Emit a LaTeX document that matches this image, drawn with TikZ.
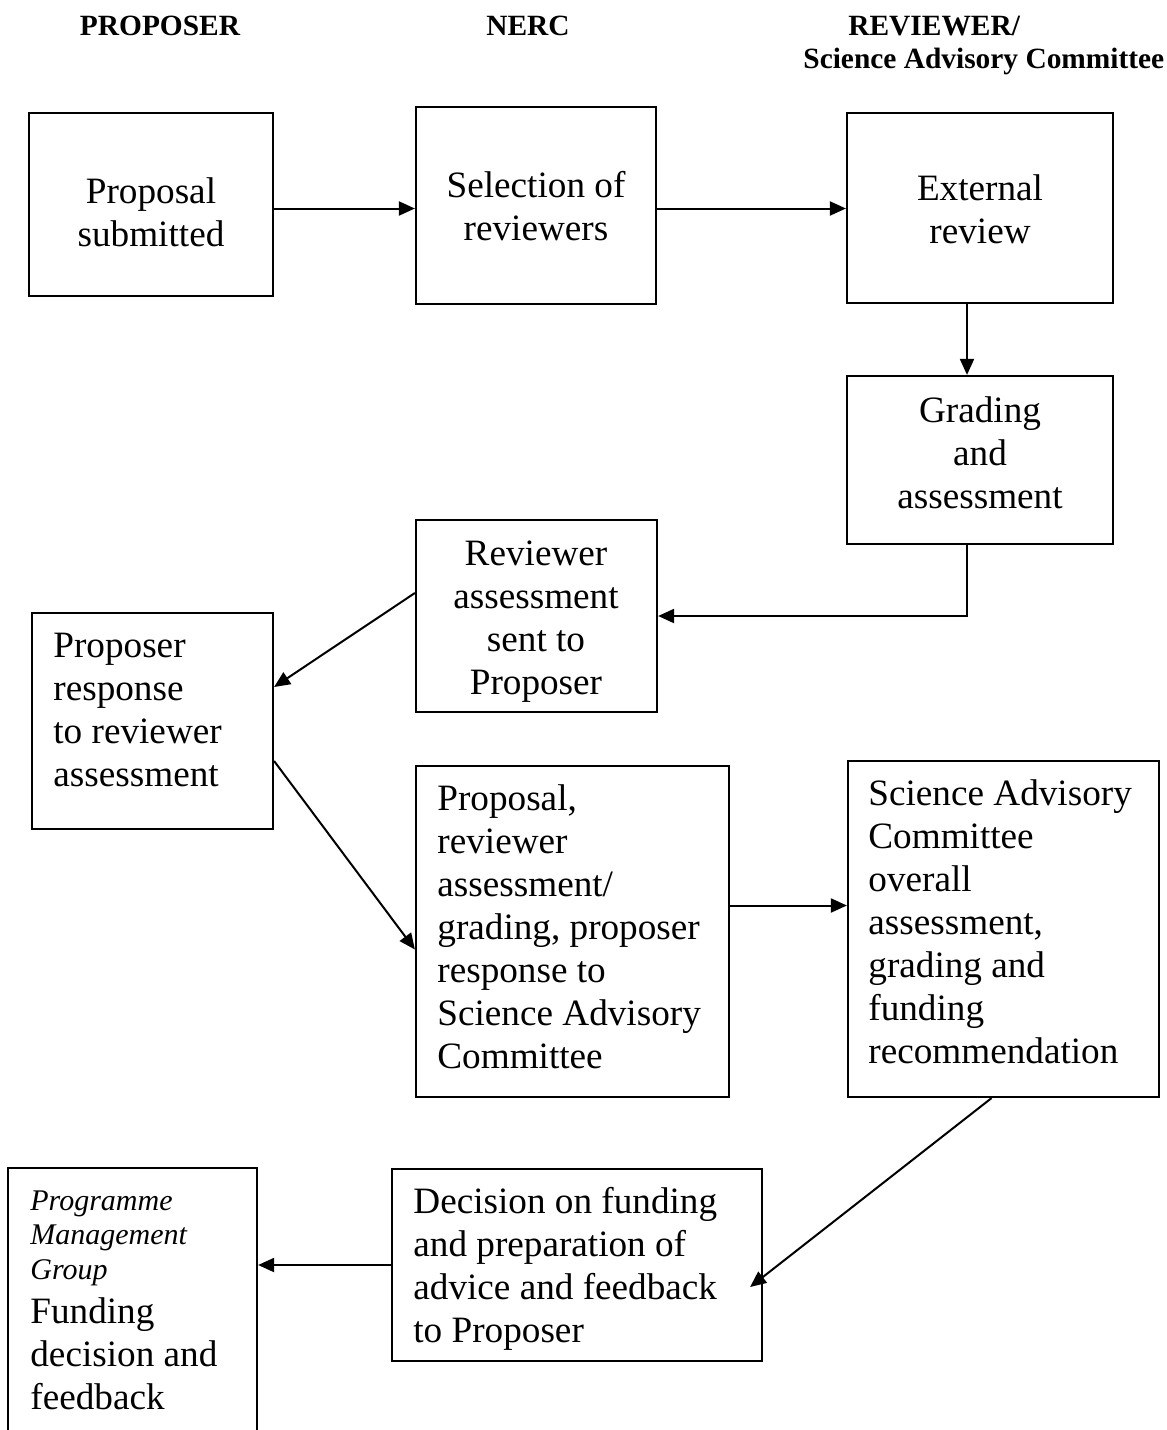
\documentclass[tikz,border=0pt]{standalone}
\usepackage{fontspec}
\setmainfont{Liberation Serif}
\usetikzlibrary{arrows.meta,calc,fit}
\newcommand{\mainsize}{\fontsize{18.6pt}{21.5pt}\selectfont}
\newcommand{\headsize}{\fontsize{14.7pt}{16.5pt}\selectfont\bfseries}
\newcommand{\pmgsize}{\fontsize{15pt}{17.3pt}\selectfont\itshape}
\newcommand{\txtlines}[2]{\begin{tabular}[t]{@{}#1@{}}#2\end{tabular}}
\begin{document}
\begin{tikzpicture}[x=0.5pt,y=-0.5pt,
  box/.style={draw, line width=1.1pt, inner sep=0pt},
  txt/.style={inner sep=0pt, font=\mainsize},
  head/.style={inner sep=0pt, font=\headsize},
  arr/.style={line width=1pt, -{Triangle[length=8pt,width=7pt]}}]
\useasboundingbox (0,0) rectangle (1167,1430);
\clip (0,0) rectangle (1167,1430);
\fill[white] (0,0) rectangle (1167,1430);

% headers
\node[head, anchor=base] (hp) at (160,35) {PROPOSER};
\node[head, anchor=base] (hn) at (528,35) {NERC};
\node[head, anchor=base west] (hr) at (848,35) {REVIEWER/};
\node[head, anchor=base west] (hs) at (803,68) {Science Advisory Committee};

% boxes
\node[box, fit={(29,113) (273,296)}] (b1) {};
\node[box, fit={(416,107) (656,304)}] (b2) {};
\node[box, fit={(847,113) (1113,303)}] (b3) {};
\node[box, fit={(847,376) (1113,544)}] (b4) {};
\node[box, fit={(416,520) (657,712)}] (b5) {};
\node[box, fit={(32,613) (273,829)}] (b6) {};
\node[box, fit={(416,766) (729,1097)}] (b7) {};
\node[box, fit={(848,761) (1159,1097)}] (b8) {};
\node[box, fit={(392,1169) (762,1361)}] (b9) {};
\node[box, fit={(8,1168) (257,1460)}] (b10) {};

% texts
\node[txt, anchor=base] (t1) at (151,203) {\txtlines{c}{Proposal\\submitted}};
\node[txt, anchor=base] (t2) at (536,197) {\txtlines{c}{Selection of\\reviewers}};
\node[txt, anchor=base] (t3) at (980,200) {\txtlines{c}{External\\review}};
\node[txt, anchor=base] (t4) at (980,422) {\txtlines{c}{Grading\\and\\assessment}};
\node[txt, anchor=base] (t5) at (536,565) {\txtlines{c}{Reviewer\\assessment\\sent to\\Proposer}};
\node[txt, anchor=base west] (t6) at (53,657) {\txtlines{l}{Proposer\\response\\to reviewer\\assessment}};
\node[txt, anchor=base west] (t7) at (437,810) {\txtlines{l}{Proposal,\\reviewer\\assessment/\\grading, proposer\\response to\\Science Advisory\\Committee}};
\node[txt, anchor=base west] (t8) at (868,805) {\txtlines{l}{Science Advisory\\Committee\\overall\\assessment,\\grading and\\funding\\recommendation}};
\node[txt, anchor=base west] (t9) at (413,1213) {\txtlines{l}{Decision on funding\\and preparation of\\advice and feedback\\to Proposer}};
\node[txt, font=\pmgsize, anchor=base west] (t10a) at (30,1210) {\txtlines{l}{Programme\\Management\\Group}};
\node[txt, anchor=base west] (t10b) at (30,1323) {\txtlines{l}{Funding\\decision and\\feedback}};

% connectors
\draw[arr] ([yshift=-2pt]b1.east) -- ([yshift=-2pt]b1.east -| b2.west);
\draw[arr] ([yshift=-1.5pt]b2.east) -- ([yshift=-1.5pt]b2.east -| b3.west);
\draw[arr] ([xshift=-6.5pt]b3.south) -- ([xshift=-6.5pt]b3.south |- b4.north);
\draw[arr] ([xshift=-6.5pt]b4.south) |- (b5.east);
\draw[arr] ([yshift=11.5pt]b5.west) -- ([yshift=17pt]b6.east);
\draw[arr] ([yshift=-20pt]b6.east) -- ([yshift=-9pt]b7.west);
\draw[arr] ([yshift=13pt]b7.east) -- ([yshift=13pt]b7.east -| b8.west);
\draw[arr] ([xshift=-6pt]b8.south) -- ([xshift=-6.5pt,yshift=-11pt]b9.east);
\draw[arr] (b9.west) -- (b9.west -| b10.east);
\end{tikzpicture}
\end{document}
